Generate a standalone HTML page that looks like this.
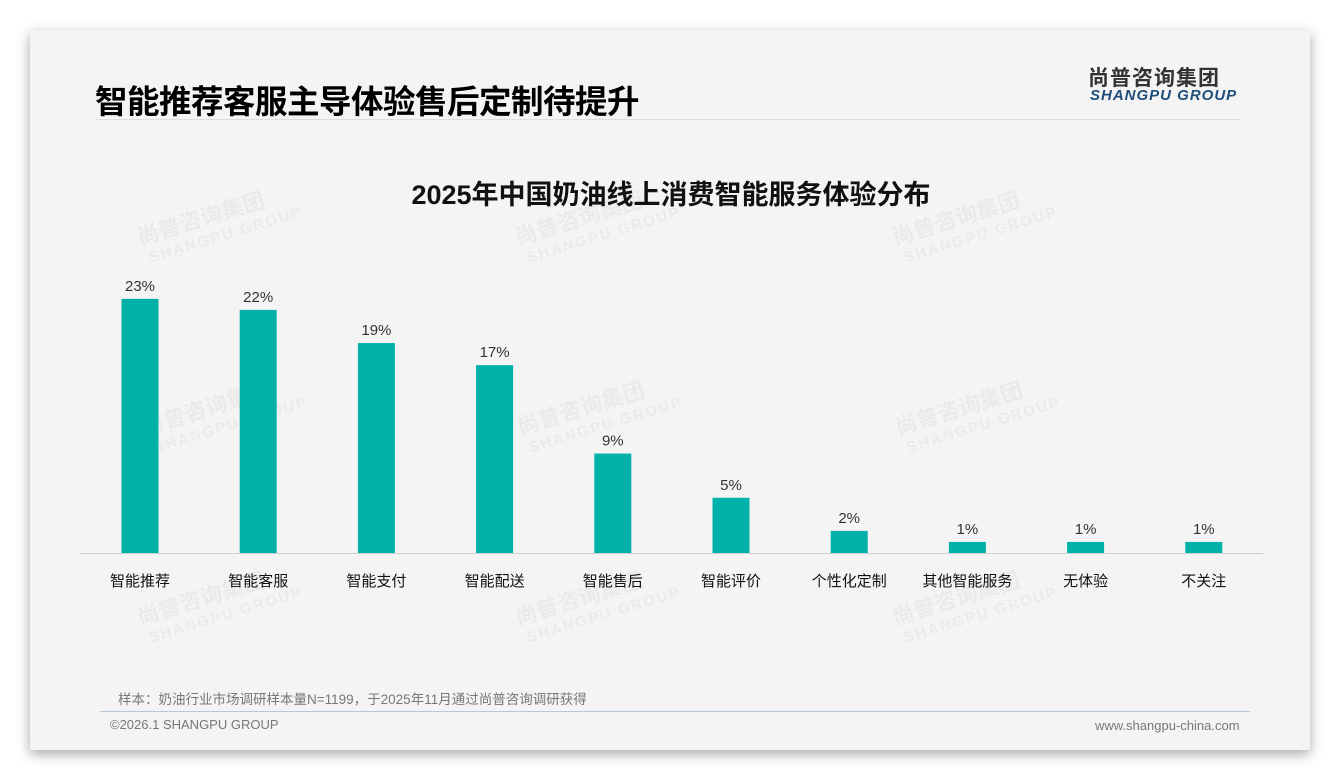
<!DOCTYPE html>
<html><head><meta charset="utf-8">
<style>
html,body{margin:0;padding:0;background:#fff;width:1340px;height:780px;overflow:hidden;font-family:"Liberation Sans","Noto Sans CJK SC",sans-serif;}
#card{position:absolute;left:30px;top:30px;width:1280px;height:720px;background:#f4f4f4;box-shadow:0 4px 12px rgba(0,0,0,0.35);}
.abs{position:absolute;}
</style></head>
<body>
<div id="card"></div>
<div class="abs" style="left:95px;top:76px;font-size:32.5px;font-weight:bold;color:#000;font-family:'Liberation Sans','Noto Sans CJK SC',sans-serif;letter-spacing:-0.5px;">智能推荐客服主导体验售后定制待提升</div>
<div class="abs" style="left:95px;top:119px;width:1145px;height:1px;background:#ddd;"></div>
<div class="abs" style="left:1088px;top:62px;font-size:21px;font-weight:bold;color:#333;letter-spacing:1px;">尚普咨询集团</div>
<div class="abs" style="left:1090px;top:87px;font-size:15px;font-weight:bold;font-style:italic;color:#1e4e79;letter-spacing:1px;">SHANGPU GROUP</div>
<svg class="abs" style="left:0;top:0" width="1340" height="780">
<g id="wm" fill="#000" opacity="0.04" font-weight="bold"></g>
<text x="671" y="204" text-anchor="middle" font-size="27" font-weight="bold" fill="#111">2025年中国奶油线上消费智能服务体验分布</text>
<line x1="80" y1="553.5" x2="1263" y2="553.5" stroke="#d0d0d0"/>
<g id="bars"></g>
</svg>
<div class="abs" style="left:118px;top:688px;font-size:13.5px;color:#777;">样本：奶油行业市场调研样本量N=1199，于2025年11月通过尚普咨询调研获得</div>
<div class="abs" style="left:100px;top:711px;width:1150px;height:1px;background:#b8c8d8;"></div>
<div class="abs" style="left:110px;top:717px;font-size:13px;color:#777;">©2026.1 SHANGPU GROUP</div>
<div class="abs" style="left:1095px;top:718px;font-size:13px;color:#777;">www.shangpu-china.com</div>
<script>
const categories=["智能推荐","智能客服","智能支付","智能配送","智能售后","智能评价","个性化定制","其他智能服务","无体验","不关注"];
const values=[23,22,19,17,9,5,2,1,1,1];
const valueLabels=["23%","22%","19%","17%","9%","5%","2%","1%","1%","1%"];
const NS="http://www.w3.org/2000/svg";
const baseY=553,pxPer=11.05,x0=140,step=118.2,bw=37;
const xScale=i=>x0+i*step;
const yScale=v=>baseY-v*pxPer;
const g=document.getElementById('bars');
categories.forEach((c,i)=>{
  const cx=xScale(i),y=yScale(values[i]);
  const r=document.createElementNS(NS,'rect');
  r.setAttribute('x',cx-bw/2);r.setAttribute('y',y);r.setAttribute('width',bw);r.setAttribute('height',baseY-y);r.setAttribute('fill','#00b1a9');
  
  
  g.appendChild(r);
  const t=document.createElementNS(NS,'text');
  t.setAttribute('x',cx);t.setAttribute('y',y-8);t.setAttribute('text-anchor','middle');t.setAttribute('font-size','15');t.setAttribute('fill','#333');
  t.textContent=valueLabels[i];
  
  
  g.appendChild(t);
  const l=document.createElementNS(NS,'text');
  l.setAttribute('x',cx);l.setAttribute('y',586);l.setAttribute('text-anchor','middle');l.setAttribute('font-size','15');l.setAttribute('fill','#111');
  l.textContent=c;
  
  
  g.appendChild(l);
});
const wm=document.getElementById('wm');
[[140,245],[518,245],[895,245],[145,435],[520,435],[898,435],[140,625],[518,625],[895,625]].forEach(p=>{
  const a=document.createElementNS(NS,'g');
  a.setAttribute('transform','translate('+p[0]+','+p[1]+') rotate(-17)');
  a.innerHTML='<text x="0" y="0" font-size="22">尚普咨询集团</text><text x="5" y="20" font-size="15" letter-spacing="2">SHANGPU GROUP</text>';
  
  
  wm.appendChild(a);
});
</script>
</body></html>
